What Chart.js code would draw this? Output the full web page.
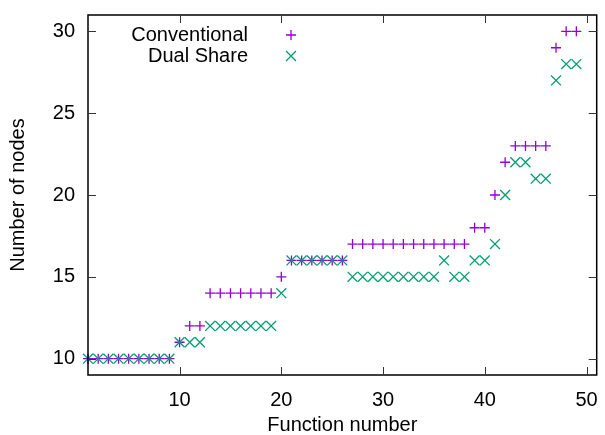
<!DOCTYPE html>
<html>
<head>
<meta charset="utf-8">
<script src="https://cdn.jsdelivr.net/npm/chart.js@4/dist/chart.umd.min.js"></script>
<style>
  html, body { margin: 0; padding: 0; background: #fff; }
  #wrap { width: 605px; height: 435px; position: relative; }
</style>
</head>
<body>
<div id="wrap"><canvas id="myChart"></canvas></div>
<script>
// function numbers (x) and node counts for each scheme
const functionNumbers = [1, 2, 3, 4, 5, 6, 7, 8, 9, 10,
  11, 12, 13, 14, 15, 16, 17, 18, 19, 20,
  21, 22, 23, 24, 25, 26, 27, 28, 29, 30,
  31, 32, 33, 34, 35, 36, 37, 38, 39, 40,
  41, 42, 43, 44, 45, 46, 47, 48, 49];
const conventional = [10, 10, 10, 10, 10, 10, 10, 10, 10, 11,
  12, 12, 14, 14, 14, 14, 14, 14, 14, 15,
  16, 16, 16, 16, 16, 16, 17, 17, 17, 17,
  17, 17, 17, 17, 17, 17, 17, 17, 18, 18,
  20, 22, 23, 23, 23, 23, 29, 30, 30];
const dualShare = [10, 10, 10, 10, 10, 10, 10, 10, 10, 11,
  11, 11, 12, 12, 12, 12, 12, 12, 12, 14,
  16, 16, 16, 16, 16, 16, 15, 15, 15, 15,
  15, 15, 15, 15, 15, 16, 15, 15, 16, 16,
  17, 20, 22, 22, 21, 21, 27, 28, 28];
const xTicks = [10, 20, 30, 40, 50];
const yTicks = [10, 15, 20, 25, 30];

const FONT = "'Liberation Sans', Arial, sans-serif";
const purple = "#9400d3";
const green = "#009e73";

function pts(ys) {
  return functionNumbers.map((x, i) => ({ x: x, y: ys[i] }));
}

// frame with inward ticks on all four sides, like gnuplot
const framePlugin = {
  id: "frame",
  afterDraw(chart) {
    const { ctx, chartArea: a, scales } = chart;
    ctx.save();
    ctx.strokeStyle = "#000";
    ctx.lineWidth = 1.5;
    ctx.strokeRect(a.left, a.top, a.right - a.left, a.bottom - a.top);
    ctx.lineWidth = 1;
    ctx.strokeStyle = "#333";
    const t = 8;
    ctx.beginPath();
    xTicks.forEach(v => {
      const px = Math.round(scales.x.getPixelForValue(v)) + 0.5;
      ctx.moveTo(px, a.bottom); ctx.lineTo(px, a.bottom - t);
      ctx.moveTo(px, a.top); ctx.lineTo(px, a.top + t);
    });
    yTicks.forEach(v => {
      const py = Math.round(scales.y.getPixelForValue(v)) + 0.5;
      ctx.moveTo(a.left, py); ctx.lineTo(a.left + t, py);
      ctx.moveTo(a.right, py); ctx.lineTo(a.right - t, py);
    });
    ctx.stroke();

    // key, top left, text right-aligned with sample on the right
    ctx.font = "20px " + FONT;
    ctx.fillStyle = "#000";
    ctx.textAlign = "right";
    ctx.textBaseline = "middle";
    chart.data.datasets.forEach((ds, i) => {
      const y = 35 + i * 21;
      ctx.fillText(ds.label, 248, y);
      ctx.strokeStyle = ds.borderColor;
      ctx.fillStyle = ds.borderColor;
      ctx.lineWidth = ds.borderWidth;
      Chart.helpers.drawPoint(ctx, {
        pointStyle: ds.pointStyle,
        radius: ds.pointRadius,
        borderWidth: ds.borderWidth
      }, 291, y);
      ctx.fillStyle = "#000";
    });
    ctx.restore();
  }
};

const ctx = document.getElementById("myChart");

new Chart(ctx, {
  type: "scatter",
  data: {
    datasets: [
      {
        label: "Conventional",
        data: pts(conventional),
        pointStyle: "cross",
        pointRadius: 5,
        pointHoverRadius: 5,
        borderWidth: 1.3,
        borderColor: purple,
        backgroundColor: purple,
        clip: false,
        order: 2
      },
      {
        label: "Dual Share",
        data: pts(dualShare),
        pointStyle: "crossRot",
        pointRadius: 7,
        pointHoverRadius: 7,
        borderWidth: 1.3,
        borderColor: green,
        backgroundColor: green,
        clip: false,
        order: 1
      }
    ]
  },
  options: {
    responsive: true,
    maintainAspectRatio: false,
    animation: false,
    events: [],
    layout: { padding: { top: 15, right: 5, left: 0, bottom: 0 } },
    plugins: {
      legend: { display: false },
      tooltip: { enabled: false }
    },
    scales: {
      x: {
        type: "linear",
        min: 1,
        max: 51,
        afterBuildTicks: s => { s.ticks = xTicks.map(v => ({ value: v })); },
        afterFit: s => { s.height = 60; s.paddingLeft = 0; s.paddingRight = 0; },
        grid: { display: false, drawTicks: false },
        border: { display: false },
        ticks: { color: "#000", padding: 13, font: { family: FONT, size: 20 }, maxRotation: 0 },
        title: { display: true, text: "Function number", color: "#000",
                 font: { family: FONT, size: 20, lineHeight: 1 }, padding: { top: 0, bottom: 0 } }
      },
      y: {
        type: "linear",
        min: 9,
        max: 31,
        afterBuildTicks: s => { s.ticks = yTicks.map(v => ({ value: v })); },
        afterFit: s => { s.width = 88; s.paddingTop = 0; s.paddingBottom = 0; },
        grid: { display: false, drawTicks: false },
        border: { display: false },
        ticks: { color: "#000", padding: 13, font: { family: FONT, size: 20 } },
        title: { display: true, text: "Number of nodes", color: "#000",
                 font: { family: FONT, size: 20, lineHeight: 1 }, padding: { top: 8, bottom: 0 } }
      }
    }
  },
  plugins: [framePlugin]
});
</script>
</body>
</html>
